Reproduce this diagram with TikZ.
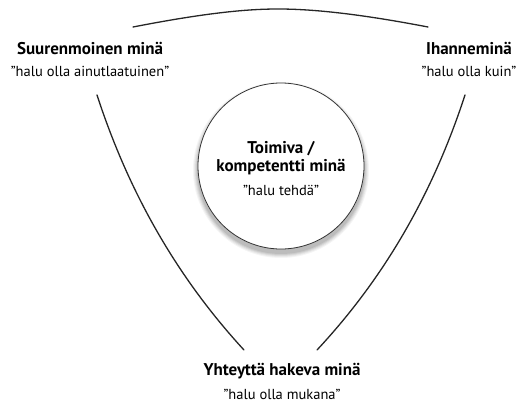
\documentclass[tikz,border=0pt]{standalone}
\usepackage{fontspec}
\setmainfont{PT Sans}
\begin{document}
\begin{tikzpicture}[x=1pt,y=-1pt,
  title/.style={font=\fontsize{17}{19}\selectfont\bfseries, inner sep=0pt, anchor=base},
  quote/.style={font=\fontsize{14.5}{17}\selectfont, inner sep=0pt, anchor=base},
  curve/.style={line width=1.3pt, line cap=round, black!85}]
\useasboundingbox (0,0) rectangle (520,402);
% corner labels
\node[title] (sT) at (90,54) {Suurenmoinen minä};
\node[quote] (sQ) at (90,76) {”halu olla ainutlaatuinen”};
\node[title] (iT) at (469,54) {Ihanneminä};
\node[quote] (iQ) at (469,76) {”halu olla kuin”};
\node[title] (yT) at (282,375) {Yhteyttä hakeva minä};
\node[quote] (yQ) at (282,399) {”halu olla mukana”};
% central circle with soft shadow
\foreach \r/\o in {88/0.04,87/0.05,86/0.06,85/0.07,84/0.08}{
  \fill[black, opacity=\o] (281,170) circle (\r);
}
\node[circle, draw=black!80, line width=0.8pt, fill=white, minimum size=166pt, inner sep=0pt] (c) at (281,166) {};
\node[title] (c1) at (281,153) {Toimiva /};
\node[title] (c2) at (281,171) {kompetentti minä};
\node[quote] (c3) at (281,195) {”halu tehdä”};
% curve endpoints
\coordinate (tl) at (133,27);
\coordinate (tr) at (428,27);
\coordinate (ls) at (97,95);
\coordinate (le) at (244,350);
\coordinate (rs) at (465,95);
\coordinate (re) at (317,350);
\draw[curve] (tl) .. controls (210,12) and (250,9) .. (278,9) .. controls (306,9) and (350,12) .. (tr);
\draw[curve] (ls) .. controls (128,190) and (175,275) .. (le);
\draw[curve] (rs) .. controls (434,190) and (387,275) .. (re);
\end{tikzpicture}
\end{document}
